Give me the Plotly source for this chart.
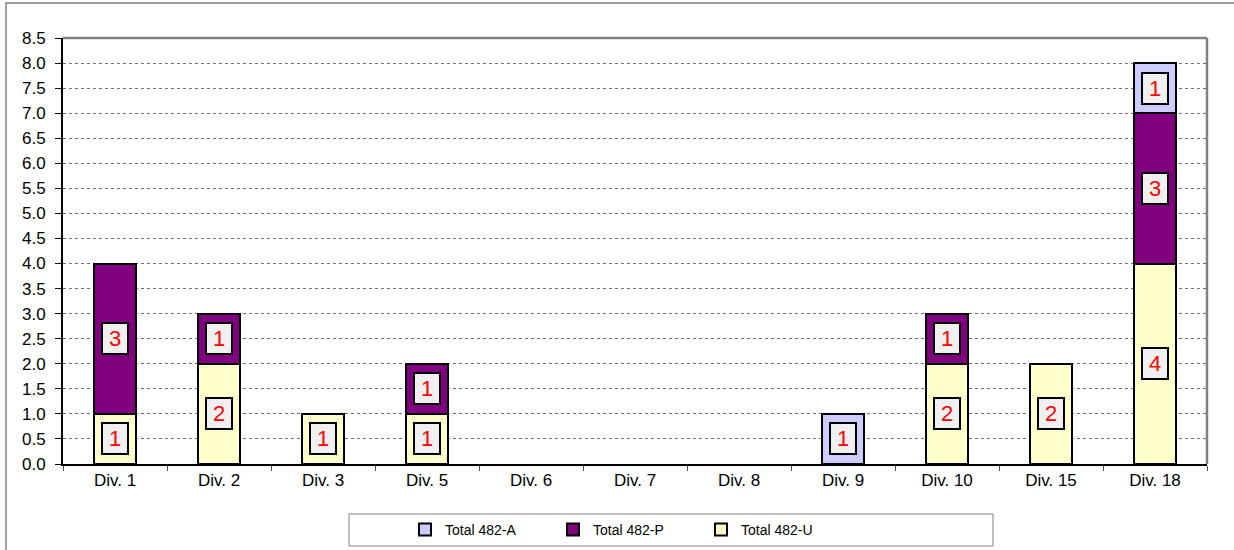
import plotly.graph_objects as go

categories = ["Div. 1", "Div. 2", "Div. 3", "Div. 5", "Div. 6", "Div. 7", "Div. 8", "Div. 9", "Div. 10", "Div. 15", "Div. 18"]
total_u = [1, 2, 1, 1, 0, 0, 0, 0, 2, 2, 4]
total_p = [3, 1, 0, 1, 0, 0, 0, 0, 1, 0, 3]
total_a = [0, 0, 0, 0, 0, 0, 0, 1, 0, 0, 1]
y_ticks = [i * 0.5 for i in range(18)]

series = [
    ("Total 482-U", total_u, "#FFFFCC"),
    ("Total 482-P", total_p, "#800080"),
    ("Total 482-A", total_a, "#CCCCFF"),
]

FONT = "Liberation Sans, Arial, sans-serif"
W, H = 1234, 550
L, R, T, B = 63, 1207, 38, 464
PW, PH = R - L, B - T


def px(x):
    return (x - L) / PW


def py(y):
    return (B - y) / PH


fig = go.Figure()
for name, vals, color in series:
    fig.add_trace(go.Bar(
        x=categories, y=[v if v else None for v in vals], name=name,
        marker=dict(color=color, line=dict(color="black", width=2)),
        width=0.4,
    ))

annotations = []
base = [0] * len(categories)
for name, vals, color in series:
    for i, v in enumerate(vals):
        if v > 0:
            annotations.append(dict(
                x=categories[i], y=base[i] + v / 2, xref="x", yref="y",
                text=str(v), showarrow=False,
                font=dict(color="red", size=22, family=FONT),
                bgcolor="#F0F0F0", bordercolor="black", borderwidth=2,
                borderpad=2, width=20, height=25,
            ))
        base[i] += v

fig.update_layout(
    barmode="stack",
    width=W, height=H,
    margin=dict(l=L, r=W - R, t=T, b=H - B, autoexpand=False),
    paper_bgcolor="white", plot_bgcolor="white",
    font=dict(family=FONT, size=17, color="black"),
    showlegend=True,
    legend=dict(
        orientation="h", xref="container", yref="container",
        x=405 / W, xanchor="left", y=(H - 530) / H, yanchor="middle",
        traceorder="reversed", font=dict(size=14, family=FONT),
        bgcolor="rgba(0,0,0,0)", entrywidth=103, entrywidthmode="pixels",
        itemwidth=30,
    ),
    annotations=annotations,
)
fig.update_xaxes(
    showline=True, linecolor="black", linewidth=2,
    ticks="outside", tickson="boundaries", ticklen=5, tickcolor="#555555",
    showgrid=False, tickfont=dict(size=17, family=FONT), automargin=False,
)
fig.update_yaxes(
    range=[0, 8.5], tickvals=y_ticks, tickformat=".1f",
    showline=True, linecolor="black", linewidth=2,
    ticks="outside", ticklen=6, tickcolor="black", ticklabelstandoff=6,
    showgrid=True, gridcolor="#707070", griddash="dot", gridwidth=1,
    zeroline=False, tickfont=dict(size=17, family=FONT), automargin=False,
)
# plot area top / right border
fig.add_shape(type="line", xref="paper", yref="paper", x0=0, x1=1, y0=1, y1=1,
              line=dict(color="#808080", width=2.5))
fig.add_shape(type="line", xref="paper", yref="paper", x0=1, x1=1, y0=0, y1=1,
              line=dict(color="#808080", width=2.5))
# legend box
fig.add_shape(type="rect", xref="paper", yref="paper",
              x0=px(349), x1=px(993), y0=py(546), y1=py(514),
              line=dict(color="#808080", width=1))
# outer chart border
fig.add_shape(type="rect", xref="paper", yref="paper",
              x0=px(6), x1=px(1260), y0=py(580), y1=py(3),
              line=dict(color="#808080", width=1.5))

fig.write_html("out.html", config={"displayModeBar": False},
               post_script="document.body.style.margin='0';")
